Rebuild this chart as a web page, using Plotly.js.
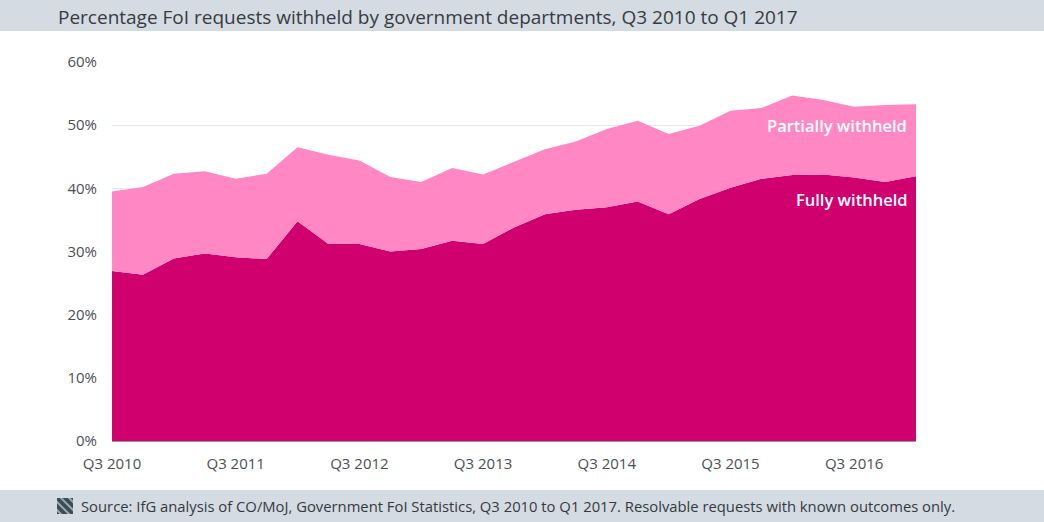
<!DOCTYPE html>
<html>
<head>
<meta charset="utf-8">
<script src="https://cdn.plot.ly/plotly-3.0.1.min.js"></script>
<style>
html,body{margin:0;padding:0;background:#fff;}
#chart{width:1044px;height:522px;}
</style>
</head>
<body>
<div id="chart"></div>
<script>
const quarters = ["Q3 2010","Q4 2010","Q1 2011","Q2 2011","Q3 2011","Q4 2011","Q1 2012","Q2 2012",
  "Q3 2012","Q4 2012","Q1 2013","Q2 2013","Q3 2013","Q4 2013","Q1 2014","Q2 2014","Q3 2014",
  "Q4 2014","Q1 2015","Q2 2015","Q3 2015","Q4 2015","Q1 2016","Q2 2016","Q3 2016","Q4 2016","Q1 2017"];
const fullyWithheld = [26.9,26.3,28.9,29.7,29.1,28.8,34.8,31.2,31.2,30.0,30.4,31.7,31.2,33.8,35.9,36.6,37.0,37.9,35.9,38.3,40.1,41.5,42.1,42.2,41.7,41.0,41.9];
const totalWithheld = [39.5,40.2,42.3,42.7,41.5,42.3,46.5,45.3,44.4,41.8,41.0,43.2,42.2,44.2,46.2,47.4,49.4,50.7,48.6,49.9,52.3,52.7,54.7,54.0,52.9,53.2,53.3];
const tickLabels = ["Q3 2010","Q3 2011","Q3 2012","Q3 2013","Q3 2014","Q3 2015","Q3 2016"];
const yTicks = [0,10,20,30,40,50,60];
const yTickLabels = ["0%","10%","20%","30%","40%","50%","60%"];

const idx = quarters.map((q,i)=>i);
const tickVals = tickLabels.map(t => quarters.indexOf(t));

const FONT = "Open Sans, sans-serif";
const traces = [
  {x: idx, y: fullyWithheld, type:'scatter', mode:'lines', fill:'tozeroy',
   line:{width:0, color:'#d0006f'}, fillcolor:'#d0006f', name:'Fully withheld', hoverinfo:'skip'},
  {x: idx, y: totalWithheld, type:'scatter', mode:'lines', fill:'tonexty',
   line:{width:0, color:'#ff88c4'}, fillcolor:'#ff88c4', name:'Partially withheld', hoverinfo:'skip'}
];

const plotTop = 62, plotBottom = 441, plotLeft = 112, plotRight = 916;
const ph = plotBottom - plotTop, pw = plotRight - plotLeft;
const py = p => (plotBottom - p) / ph;
const px = p => (p - plotLeft) / pw;

const iconSvg = '<svg xmlns="http://www.w3.org/2000/svg" width="16" height="16" viewBox="0 0 16 16">' +
  '<rect width="16" height="16" fill="#3d4b57"/>' +
  '<path d="M-2,2 L14,18 M2,-2 L18,14 M-6,6 L10,22 M6,-6 L22,10" stroke="#9aa8b3" stroke-width="2"/></svg>';
const iconUri = 'data:image/svg+xml;base64,' + btoa(iconSvg);

const layout = {
  width:1044, height:522,
  margin:{l:plotLeft, r:1044-plotRight, t:plotTop, b:522-plotBottom, pad:0},
  paper_bgcolor:'#ffffff', plot_bgcolor:'#ffffff',
  showlegend:false,
  font:{family:FONT, color:'#4a4a4a'},
  xaxis:{range:[0, quarters.length-1], tickvals:tickVals, ticktext:tickLabels,
    showgrid:false, zeroline:false, showline:true, linecolor:'#9a9a9a', linewidth:1,
    ticks:'', ticklabelstandoff:9, tickfont:{size:15, color:'#4a4f55', family:FONT}, fixedrange:true},
  yaxis:{range:[0,60], tickvals:yTicks, ticktext:yTickLabels, showgrid:true, gridcolor:'#e8e8e8', gridwidth:1,
    zeroline:false, showline:false, ticks:'', ticklabelstandoff:14,
    tickfont:{size:15, color:'#4a4f55', family:FONT}, fixedrange:true},
  shapes:[
    {type:'rect', xref:'paper', yref:'paper', x0:px(0), x1:px(1044), y0:py(31), y1:py(0),
     fillcolor:'#d5dbe2', line:{width:0}, layer:'below'},
    {type:'rect', xref:'paper', yref:'paper', x0:px(0), x1:px(1044), y0:py(522), y1:py(490),
     fillcolor:'#d5dbe2', line:{width:0}, layer:'below'}
  ],
  images:[
    {source:iconUri, xref:'paper', yref:'paper', x:px(57), y:py(498), sizex:16/pw, sizey:16/ph,
     xanchor:'left', yanchor:'top', sizing:'stretch', layer:'above'}
  ],
  annotations:[
    {text:'Percentage FoI requests withheld by government departments, Q3 2010 to Q1 2017',
     xref:'paper', yref:'paper', x:px(56), y:py(16.5), xanchor:'left', yanchor:'middle', showarrow:false,
     font:{size:19, color:'#363b40', family:FONT}},
    {text:'Source: IfG analysis of CO/MoJ, Government FoI Statistics, Q3 2010 to Q1 2017. Resolvable requests with known outcomes only.',
     xref:'paper', yref:'paper', x:px(79), y:py(506), xanchor:'left', yanchor:'middle', showarrow:false,
     font:{size:14.8, color:'#333a40', family:FONT}},
    {text:'Partially withheld', xref:'x', yref:'y', x:quarters.length-1, y:49.9, xanchor:'right', yanchor:'middle',
     xshift:-7, showarrow:false, font:{size:16.5, color:'#ffffff', family:FONT, weight:600}},
    {text:'Fully withheld', xref:'x', yref:'y', x:quarters.length-1, y:38.2, xanchor:'right', yanchor:'middle',
     xshift:-6, showarrow:false, font:{size:16.5, color:'#ffffff', family:FONT, weight:600}}
  ]
};

Plotly.newPlot('chart', traces, layout, {displayModeBar:false, staticPlot:true});
</script>
</body>
</html>
